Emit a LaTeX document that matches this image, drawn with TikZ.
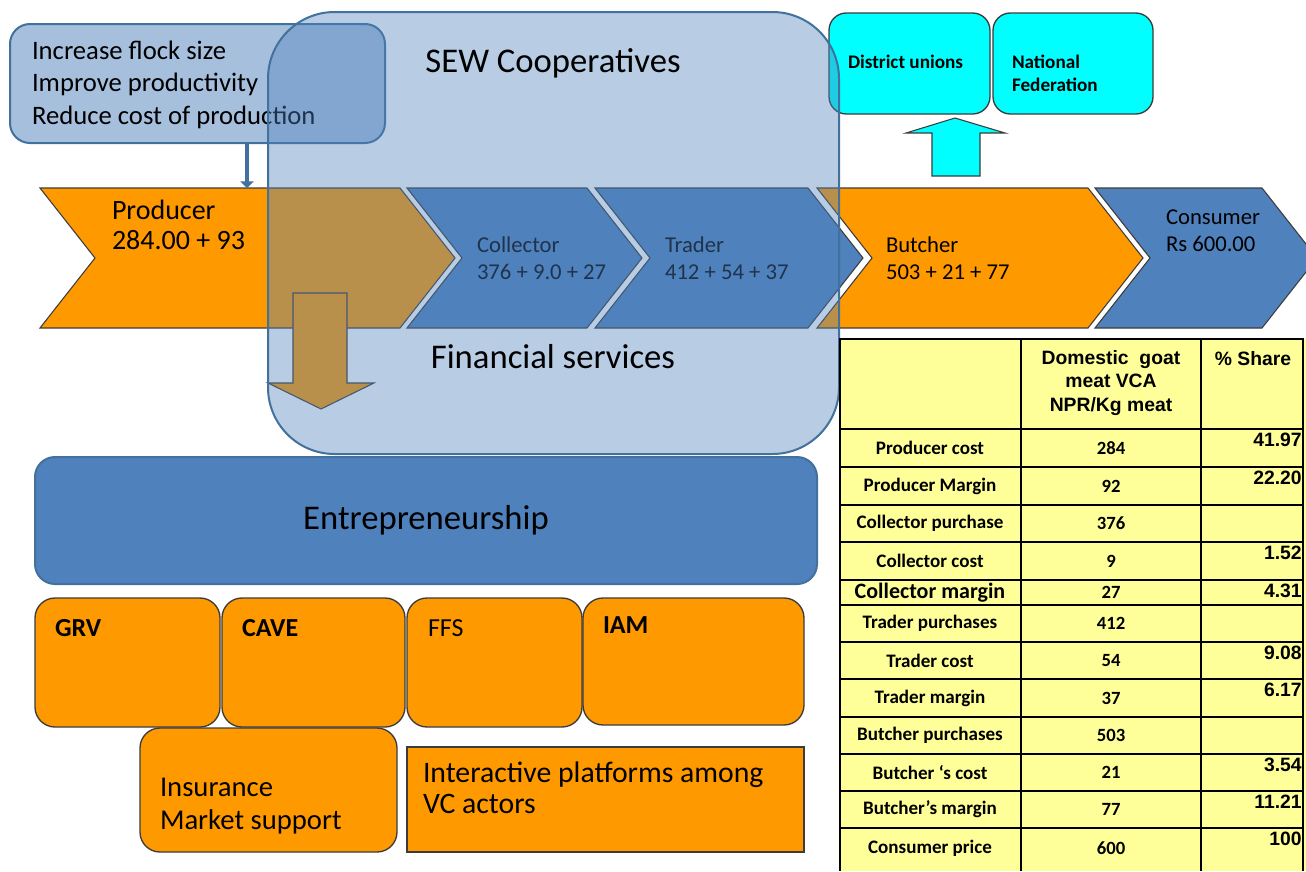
\documentclass[tikz,border=0pt]{standalone}
\usepackage{fontspec}
\setmainfont{Carlito}
\newfontfamily\tablehead{Liberation Sans}
\usetikzlibrary{arrows.meta}

\definecolor{vcblue}{RGB}{79,129,189}
\definecolor{vcorange}{RGB}{255,153,0}
\definecolor{vcedge}{RGB}{65,113,156}
\definecolor{vcgrey}{RGB}{60,60,60}
\definecolor{vccyan}{RGB}{0,255,255}
\definecolor{vcyellow}{RGB}{255,255,153}

% font size and baseline skip, in pt
\newcommand\fsz[2]{\fontsize{#1pt}{#2pt}\selectfont}
% a box node spanning the corners (x1,y1) and (x2,y2): style, name, x1, y1, x2, y2
\newcommand\panel[6]{\node[#1, minimum width={0.75*(#5-#3)}, minimum height={0.75*(#6-#4)}] (#2) at ({(#3+#5)/2},{(#4+#6)/2}) {};}
% one step of the value chain: fill, left edge, right edge
\newcommand\chevron[3]{\filldraw[chev, fill=#1] (#2,188) -- (#3,188) -- ({#3+55},258) -- (#3,328) -- (#2,328) -- ({#2+55},258) -- cycle;}

\begin{document}
\begin{tikzpicture}[x=0.75pt, y=-0.75pt,
  chev/.style={draw=vcgrey, line width=0.8pt, line join=miter},
  goalbox/.style={draw=vcedge, line width=1.5pt, fill=vcblue, fill opacity=0.5, rounded corners=15pt, inner sep=0pt, outer sep=0pt},
  sewbox/.style={draw=vcedge, line width=1.5pt, fill=vcblue, fill opacity=0.4, rounded corners=50pt, inner sep=0pt, outer sep=0pt},
  entbox/.style={draw=vcedge, line width=1.5pt, fill=vcblue, rounded corners=15pt, inner sep=0pt, outer sep=0pt},
  tilebox/.style={draw=vcgrey, line width=1pt, fill=vcorange, rounded corners=15pt, inner sep=0pt, outer sep=0pt},
  platbox/.style={draw=vcgrey, line width=1pt, fill=vcorange, inner sep=0pt, outer sep=0pt},
  unionbox/.style={draw=vcgrey, line width=1pt, fill=vccyan, rounded corners=13pt, inner sep=0pt, outer sep=0pt},
  txt/.style={inner sep=0pt, outer sep=0pt, anchor=west, align=left, text=black},
  ctxt/.style={inner sep=0pt, outer sep=0pt, anchor=center, align=center, text=black},
  blockarrow/.style={draw=vcgrey, line width=0.8pt, line join=miter},
  tabrule/.style={line width=1.1pt, black},
  tabheavy/.style={line width=2.2pt, black},
]
\fill[white] (0,0) rectangle (1306,871);
\useasboundingbox (0,0) rectangle (1306,871);

% district unions and national federation
\panel{unionbox}{district}{829}{13}{990}{114}
\panel{unionbox}{national}{993}{13}{1153}{114}
\node[txt, font=\bfseries\fsz{14.4}{17.3}] (districttxt) at (848,62) {District unions};
\node[txt, font=\bfseries\fsz{14.4}{17.3}] (nationaltxt) at (1012,73) {National\\Federation};

% production goals
\panel{goalbox}{goals}{10}{24}{385}{143}
\node[txt, font=\fsz{20}{24.4}] (goalstxt) at (32,84.5) {Increase flock size\\Improve productivity\\Reduce cost of production};

% value chain
\chevron{vcorange}{40}{400}
\chevron{vcblue}{407}{587}
\chevron{vcblue}{595}{808}
\chevron{vcorange}{817}{1088}
\chevron{vcblue}{1095}{1262}
\node[txt, font=\fsz{21}{22.5}] (producer) at (112,225) {Producer\\284.00 + 93};
\node[txt, font=\fsz{17}{20.5}] (collector) at (477,258.5) {Collector\\376 + 9.0 + 27};
\node[txt, font=\fsz{17}{20.5}] (trader) at (665,258.5) {Trader\\412 + 54 + 37};
\node[txt, font=\fsz{17}{20.5}] (butcher) at (886,258.5) {Butcher\\503 + 21 + 77};
\node[txt, font=\fsz{17}{20.5}] (consumer) at (1166,231) {Consumer\\Rs 600.00};

% goals feed the producer
\coordinate (goalsfoot) at (247,144);
\coordinate (producertop) at (247,188);
\draw[vcedge, line width=3.5pt, -{Triangle[width=10pt,length=5pt]}] (goalsfoot) -- (producertop);

% butchers organise upwards
\filldraw[blockarrow, fill=vccyan] (932,176) -- (932,133) -- (906,133) -- (955,118) -- (1005,133) -- (980,133) -- (980,176) -- cycle;

% producers flow down into entrepreneurship
\filldraw[blockarrow, fill=vcorange] (293,293) -- (347,293) -- (347,383) -- (374,383) -- (321,409) -- (268,383) -- (293,383) -- cycle;

% cooperative umbrella
\panel{sewbox}{sew}{268}{12}{839}{454}
\node[ctxt, font=\fsz{26}{31}] (sewtxt) at (553,63) {SEW Cooperatives};
\node[ctxt, font=\fsz{26}{31}] (financial) at (553,357) {Financial services};

% entrepreneurship
\panel{entbox}{entre}{35}{457}{817}{584}
\node[ctxt, font=\fsz{26}{31}] (entretxt) at (426,520) {Entrepreneurship};

% support tiles
\panel{tilebox}{grv}{35}{598}{220}{727}
\panel{tilebox}{cave}{222}{598}{405}{727}
\panel{tilebox}{ffs}{407}{598}{582}{727}
\panel{tilebox}{iam}{583}{598}{804}{725}
\panel{tilebox}{insure}{140}{728}{397}{852}
\panel{platbox}{platform}{407}{747}{804}{852}
\node[txt, font=\bfseries\fsz{19.5}{23}] (grvtxt) at (55,628) {GRV};
\node[txt, font=\bfseries\fsz{19.5}{23}] (cavetxt) at (242,628) {CAVE};
\node[txt, font=\fsz{19.5}{23}] (ffstxt) at (428,628) {FFS};
\node[txt, font=\bfseries\fsz{19.5}{23}] (iamtxt) at (603,625) {IAM};
\node[txt, font=\fsz{21.5}{24.75}] (insuretxt) at (160,806.5) {Insurance\\Market support};
\node[txt, font=\fsz{22.3}{23.25}] (platformtxt) at (423,787.5) {Interactive platforms among\\VC actors};

% value chain analysis table
\fill[vcyellow] (840,339) rectangle (1306,871);
\foreach \y in {467,505,542,580,605,642,679,717,754,791,828}
  \draw[tabrule] (840,\y) -- (1303,\y);
\draw[tabheavy] (840,339) -- (1303,339);
\draw[tabheavy] (840,429) -- (1303,429);
\draw[tabheavy] (840,338) -- (840,871);
\draw[tabheavy] (1303,338) -- (1303,871);
\draw[tabheavy] (1021,339) -- (1021,429);
\draw[tabheavy] (1201,339) -- (1201,429);
\draw[tabrule] (1021,429) -- (1021,871);
\draw[tabrule] (1201,429) -- (1201,871);

\node[ctxt, font=\tablehead\bfseries\fsz{14.5}{17.5}] (headval) at (1111,383) {Domestic\ \ goat\\meat VCA\\NPR/Kg meat};
\node[ctxt, font=\tablehead\bfseries\fsz{14.5}{17.5}] (headpct) at (1253,359) {\% Share};

\foreach \lab/\sz/\val/\pct/\top/\bot [count=\n] in {
    Producer cost/14.3/284/41.97/429/467,
    Producer Margin/14.3/92/22.20/467/505,
    Collector purchase/14.3/376//505/542,
    Collector cost/14.3/9/1.52/542/580,
    Collector margin/16.5/27/4.31/580/605,
    Trader purchases/14.3/412//605/642,
    Trader cost/14.3/54/9.08/642/679,
    Trader margin/14.3/37/6.17/679/717,
    Butcher purchases/14.3/503//717/754,
    Butcher ‘s cost/14.3/21/3.54/754/791,
    Butcher’s margin/14.3/77/11.21/791/828,
    Consumer price/14.3/600/100/828/869}{
  \node[ctxt, font=\bfseries\fsz{\sz}{17}] (lab\n) at (930,{(\top+\bot)/2}) {\lab};
  \node[ctxt, font=\bfseries\fsz{14}{17}] (val\n) at (1111,{(\top+\bot)/2}) {\val};
  \node[inner sep=0pt, anchor=east, font=\tablehead\bfseries\fsz{14.5}{17}] (pct\n) at (1302,{\top+11}) {\pct};
}
\end{tikzpicture}
\end{document}
